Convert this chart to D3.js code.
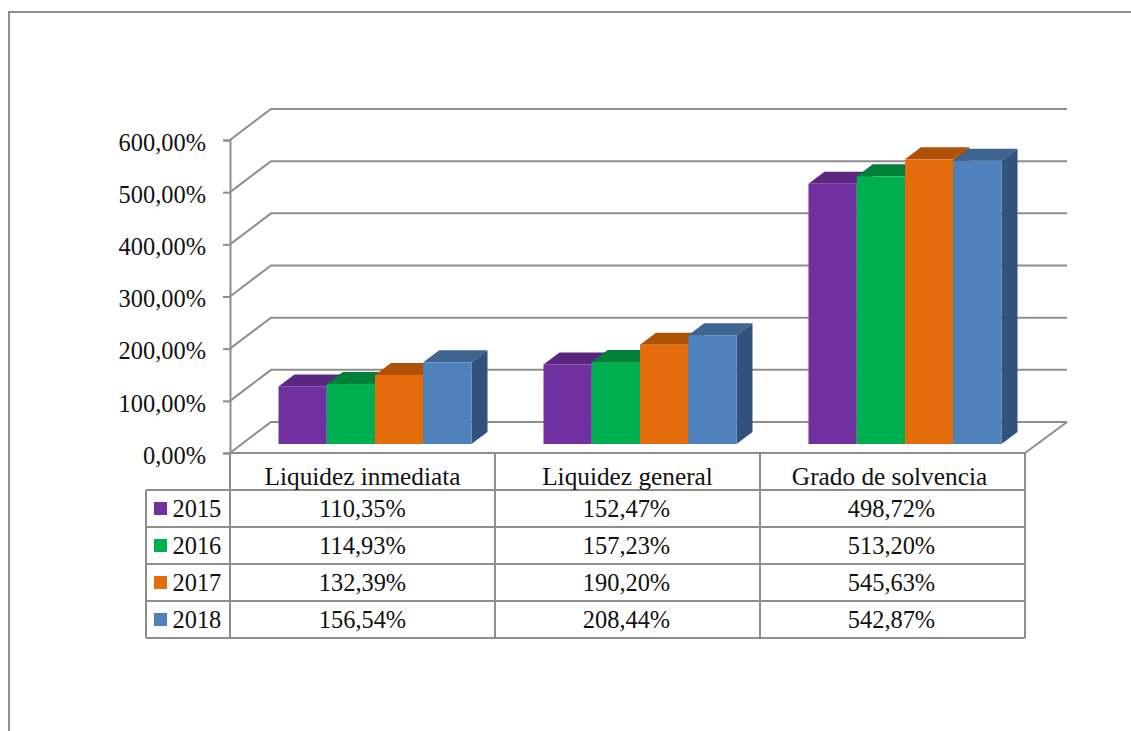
<!DOCTYPE html>
<html>
<head>
<meta charset="utf-8">
<script src="https://d3js.org/d3.v7.min.js"></script>
<style>
    body { margin: 0; background: #fff; overflow: hidden; }
    text { font-family: "Liberation Serif", serif; fill: #111; }
</style>
</head>
<body>
<script>
var categories = ["Liquidez inmediata", "Liquidez general", "Grado de solvencia"];
var years = ["2015", "2016", "2017", "2018"];
var values2015 = [110.35, 152.47, 498.72];
var values2016 = [114.93, 157.23, 513.20];
var values2017 = [132.39, 190.20, 545.63];
var values2018 = [156.54, 208.44, 542.87];
var yTicks = [0, 100, 200, 300, 400, 500, 600];
var frontColors = ["#7030A0", "#00B050", "#E46C0A", "#4F81BD"];
var topColors = ["#5A267F", "#008038", "#AE5208", "#3F6491"];
var sideColors = ["#47206A", "#00703A", "#8F4507", "#31527C"];

var series = [values2015, values2016, values2017, values2018];
var w = 1131, h = 731;
var lineColor = "#8E8E8E";
var fontSize = 24.4;
var headFontSize = 25.3;

var svg = d3.select("body").append("svg")
    .attr("width", w)
    .attr("height", h);

// outer frame, runs off the right and bottom of the picture
svg.append("path")
    .attr("d", "M9," + h + "V12H" + w)
    .attr("fill", "none")
    .attr("stroke", lineColor)
    .attr("stroke-width", 2);

var x0 = d3.scaleBand().domain(categories).range([230, 1025]);
var x1 = d3.scaleBand().domain(years).range([48.5, 241.5]);
var y = d3.scaleLinear().domain([0, 600]).range([453, 140]);

var wallDx = 41, wallDy = -31;   // wall depth
var barDx = 16, barDy = -12;     // bar depth
var barLift = 9;                 // bars stand a bit behind the front of the floor

// gridlines on the side and back walls
var grid = svg.append("g")
    .attr("fill", "none")
    .attr("stroke", lineColor)
    .attr("stroke-width", 2);
grid.selectAll("path")
    .data(yTicks)
    .enter()
    .append("path")
    .attr("d", function (d) {
        return "M230," + y(d) + "l" + wallDx + "," + wallDy + "H" + (1026 + wallDx);
    });
// floor edge on the right
grid.append("path")
    .attr("d", "M1025," + y(0) + "L" + (1026 + wallDx) + "," + (y(0) + wallDy));

var locale = d3.formatLocale({ decimal: ",", thousands: ".", grouping: [3], currency: ["", ""] });
var fmt = locale.format(".2f");
function pct(v) { return fmt(v) + "%"; }

// y axis
var yAxis = d3.axisLeft(y)
    .tickValues(yTicks)
    .tickSize(7)
    .tickPadding(17)
    .tickFormat(pct);

var axisG = svg.append("g")
    .attr("transform", "translate(230,0)")
    .call(yAxis);
axisG.attr("font-family", null);
axisG.selectAll("path, line").attr("stroke", lineColor).attr("stroke-width", 2);
axisG.selectAll("text")
    .attr("font-size", fontSize)
    .attr("dy", "0.42em");

// bars, left to right so each one covers the side of the one before
var bars = svg.append("g");
categories.forEach(function (c, ci) {
    years.forEach(function (yr, si) {
        var v = series[si][ci];
        var bw = x1.bandwidth();
        var left = x0(c) + x1(yr);
        var top = y(v) - barLift;
        var base = y(0) - barLift;
        var g = bars.append("g");
        g.append("path")
            .attr("d", "M" + (left + bw) + "," + top + "l" + barDx + "," + barDy + "V" + (base + barDy) + "l" + (-barDx) + "," + (-barDy) + "Z")
            .attr("fill", sideColors[si]);
        g.append("path")
            .attr("d", "M" + left + "," + top + "l" + barDx + "," + barDy + "h" + bw + "l" + (-barDx) + "," + (-barDy) + "Z")
            .attr("fill", topColors[si]);
        g.append("rect")
            .attr("x", left)
            .attr("y", top)
            .attr("width", bw)
            .attr("height", base - top)
            .attr("fill", frontColors[si]);
    });
});

// data table under the chart
var headerBottom = 490, rowH = 37, tableLeft = 146;
var rowY = d3.scaleBand().domain(years).range([headerBottom, headerBottom + rowH * years.length]);
var tableBottom = headerBottom + rowH * years.length;
var table = svg.append("g")
    .attr("fill", "none")
    .attr("stroke", lineColor)
    .attr("stroke-width", 2);
table.append("path").attr("d", "M230," + y(0) + "H1025");
categories.concat([null]).forEach(function (c) {
    var xx = c === null ? 1025 : x0(c);
    table.append("path").attr("d", "M" + xx + "," + y(0) + "V" + tableBottom);
});
table.append("path").attr("d", "M" + tableLeft + "," + headerBottom + "V" + tableBottom);
years.concat([null]).forEach(function (yr) {
    var yy = yr === null ? tableBottom : rowY(yr);
    table.append("path").attr("d", "M" + tableLeft + "," + yy + "H1025");
});

// the labels do not sit exactly in the middle of their columns
function headX(c, i) { return x0(c) + x0.bandwidth() / 2 - (i === 2 ? 3 : 0); }
function cellX(c, i) { return x0(c) + x0.bandwidth() / 2 - (i === 0 ? 0 : 1); }

svg.selectAll("text.head")
    .data(categories)
    .enter()
    .append("text")
    .attr("class", "head")
    .attr("x", headX)
    .attr("y", 485)
    .attr("text-anchor", "middle")
    .attr("font-size", headFontSize)
    .text(function (d) { return d; });

years.forEach(function (yr, si) {
    var baseLine = rowY(yr) + 26.6;
    svg.append("rect")
        .attr("x", 154)
        .attr("y", rowY(yr) + 12)
        .attr("width", 13)
        .attr("height", 13)
        .attr("fill", frontColors[si]);
    svg.append("text")
        .attr("x", 172.5)
        .attr("y", baseLine)
        .attr("font-size", fontSize)
        .text(yr);
    categories.forEach(function (c, ci) {
        svg.append("text")
            .attr("x", cellX(c, ci))
            .attr("y", baseLine)
            .attr("text-anchor", "middle")
            .attr("font-size", fontSize)
            .text(pct(series[si][ci]));
    });
});
</script>
</body>
</html>
